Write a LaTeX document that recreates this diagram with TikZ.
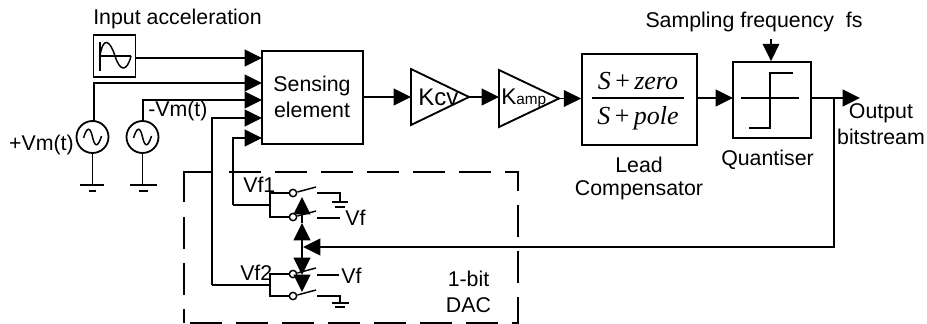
\documentclass[tikz,border=0pt]{standalone}
\usepackage{fontspec}
\setmainfont{Liberation Sans}
\usetikzlibrary{arrows.meta,calc}
\newfontfamily\mathserif{Liberation Serif}
\tikzset{
 x=0.75pt,y=-0.75pt,
 wire/.style={line width=1.4pt,draw=black},
 thin wire/.style={line width=1.1pt,draw=black},
 arr/.style={wire,-{Triangle[length=13pt,width=12.5pt]}},
 blockbox/.style={draw=black,line width=1.35pt,fill=white,inner sep=0pt,align=center},
 txt/.style={inner sep=0pt,font=\fontsize{16pt}{19.5pt}\selectfont,align=center},
 vflabel/.style={inner sep=0pt,font=\fontsize{16pt}{18pt}\selectfont},
 contact/.style={circle,draw=black,line width=1.1pt,fill=white,minimum size=5.5pt,inner sep=0pt},
 source/.style={circle,draw=black,line width=1.35pt,fill=white,minimum size=24pt,inner sep=0pt},
 dacline/.style={line width=2.1pt,draw=black,dash pattern=on 24pt off 10.5pt},
 dacsolid/.style={line width=2.1pt,draw=black},
}
\begin{document}
\begin{tikzpicture}
\useasboundingbox (0,0) rectangle (927,324);
% blocks
\node[blockbox,minimum width=75.75pt,minimum height=69.75pt] (sense) at (312.5,97.5) {};
\node[txt] (sensetxt) at (312,97) {Sensing\\element};
\node[blockbox,minimum width=31.5pt,minimum height=31.5pt] (inp) at (114.5,56) {};
\node[txt] (inplab) at (177.5,19) {Input acceleration};
\draw[line width=1.1pt] (100,42) -- (100,71);
\draw[line width=1.1pt] (100,56) -- (131,56);
\draw[line width=1.1pt] (100,56) .. controls (103,36) and (110,40) .. (115,56) .. controls (120,72) and (127,72) .. (131,56);
\node[source] (s1) at (92.5,137) {};
\node[source] (s2) at (142.5,137) {};
\draw[line width=1.1pt] (83.5,138) .. controls (87.5,125) and (90.5,128) .. (92.5,137) .. controls (94.5,146) and (97.5,149) .. (101.5,136);
\draw[line width=1.1pt] (133.5,138) .. controls (137.5,125) and (140.5,128) .. (142.5,137) .. controls (144.5,146) and (147.5,149) .. (151.5,136);
\node[txt,anchor=east] (vmp) at (74,145) {+Vm(t)};
\node[txt,anchor=west] (vmn) at (148,111) {-Vm(t)};
% ground of sources
\coordinate (g1) at (92.5,185);
\coordinate (g2) at (142.5,185);
\draw[wire] (s1) -- (g1);
\draw[wire] (s2) -- (g2);
\draw[thin wire] (80,185) -- (104,185) (89,191) -- (96,191);
\draw[thin wire] (130,185) -- (157,185) (139,191) -- (148,191);
% input arrows
\coordinate (t1) at (262,58);
\coordinate (t2) at (262,83);
\coordinate (t3) at (262,100);
\coordinate (t4) at (262,118);
\coordinate (t5) at (262,138);
\draw[arr] (inp.east |- t1) -- (t1);
\draw[arr] (94,121) -- (94,83) -- (t2);
\draw[arr] (143,121) -- (143,100) -- (t3);
% forward path
\coordinate (k1a) at (411,69); \coordinate (k1b) at (411,125); \coordinate (k1t) at (469,97);
\coordinate (k2a) at (499,70); \coordinate (k2b) at (499,127); \coordinate (k2t) at (559,98.5);
\draw[wire,line join=miter] (k1a) -- (k1t) -- (k1b) -- cycle;
\draw[wire,line join=miter] (k2a) -- (k2t) -- (k2b) -- cycle;
\node[txt,font=\fontsize{18pt}{20pt}\selectfont,anchor=west] (kcv) at (418,97) {Kcv};
\node[txt,font=\fontsize{17pt}{20pt}\selectfont,anchor=west] (kamp) at (501,98) {K{\fontsize{11.5pt}{14pt}\selectfont amp}};
\draw[arr] (sense.east |- k1t) -- (k1a |- k1t);
\draw[arr] (k1t) -- (k2a |- k1t);
\node[blockbox,minimum width=86.25pt,minimum height=68.25pt] (lead) at (639.5,99.5) {};
\draw[thin wire] (592,98) -- (684,98);
\node[inner sep=0pt,font=\fontsize{19.5pt}{22pt}\selectfont] (num) at (638,81) {\mathserif\textit{S}\,+\,\textit{zero}};
\node[inner sep=0pt,font=\fontsize{19.5pt}{22pt}\selectfont] (den) at (638,118) {\mathserif\textit{S}\,+\,\textit{pole}};
\draw[arr] (k2t) -- (lead.west |- k2t);
\node[txt,font=\fontsize{16pt}{17pt}\selectfont] (leadlab) at (639,178.5) {Lead\\Compensator};
\node[blockbox,minimum width=58.5pt,minimum height=57pt] (quant) at (772,100) {};
\draw[thin wire] (741,98) -- (799,98);
\draw[thin wire] (749,128) -- (770,128) -- (770,73) -- (793,73);
\coordinate (qin) at (733,98);
\draw[arr] (lead.east |- qin) -- (qin);
\node[txt] (quantlab) at (767.5,159.5) {Quantiser};
\node[txt] (fs) at (754,21.5) {Sampling frequency\ \ fs};
\coordinate (fstop) at (771,39);
\draw[arr] (fstop) -- (fstop |- quant.north);
\coordinate (outtip) at (860,98);
\draw[arr] (quant.east |- outtip) -- (outtip);
\node[txt] (outlab) at (881,124) {Output\\bitstream};
% DAC box
\draw[dacsolid] (184,202) -- (184,172) -- (213,172);
\draw[dacline] (229,172) -- (518,172) -- (518,323) -- (190,323);
\draw[dacline] (184,217) -- (184,323);
% feedback to sensing
\coordinate (c4) at (212,285);
\coordinate (c5) at (233,205);
\draw[arr] (c4) -- (212,118) -- (t4);
\draw[arr] (c5) -- (233,138) -- (t5);
\coordinate (b1) at (270,193); \coordinate (b2) at (270,217);
\coordinate (b3) at (270,274); \coordinate (b4) at (270,296);
\node[vflabel,anchor=west] (vf1) at (243,185) {Vf1};
\node[vflabel,anchor=west] (vf2) at (240,273) {Vf2};
\draw[thin wire] (c5) -- (270,205);
\draw[thin wire] (c4) -- (270,285);
\node[contact] (c1a) at (293,193) {};
\node[contact] (c1b) at (293,217) {};
\node[contact] (c2a) at (293,274) {};
\node[contact] (c2b) at (293,296) {};
\draw[thin wire] (c1a) -- (b1) -- (b2) -- (c1b);
\draw[thin wire] (c2a) -- (b3) -- (b4) -- (c2b);
\draw[thin wire] (c1a.east) ++(0,-1) -- (316,187);
\draw[thin wire] (c1b.east) ++(0,-1) -- (316,211);
\draw[thin wire] (c2a.east) ++(0,-1) -- (316,268);
\draw[thin wire] (c2b.east) ++(0,-1) -- (316,290);
% fixed contacts
\draw[thin wire] (317,193) -- (340,193) -- (340,202);
\draw[thin wire] (332,202) -- (348,202) (335,207) -- (345,207);
\draw[thin wire] (317,218) -- (340,218);
\draw[thin wire] (317,275) -- (339,275);
\draw[thin wire] (317,296) -- (340,296) -- (340,303);
\draw[thin wire] (332,303) -- (349,303) (335,307) -- (345,307);
\node[vflabel,anchor=west] (vfa) at (345,218) {Vf};
\node[vflabel,anchor=west] (vfb) at (341,276) {Vf};
\node[txt] (dac) at (468.5,292) {1-bit\\DAC};
% double arrows
\coordinate (a1) at (302,197); \coordinate (a2) at (302,223);
\coordinate (a3) at (302,275); \coordinate (a4) at (302,292);
\coordinate (mid) at (302,247);
\draw[arr] (mid) -- (a2);
\draw[arr] (a2) -- (a1);
\draw[arr] (mid) -- (a3);
\draw[arr] (a3) -- (a4);
\coordinate (fb) at (834,98);
\draw[arr] (fb) -- (834,247) -- (303,247);
\end{tikzpicture}
\end{document}
